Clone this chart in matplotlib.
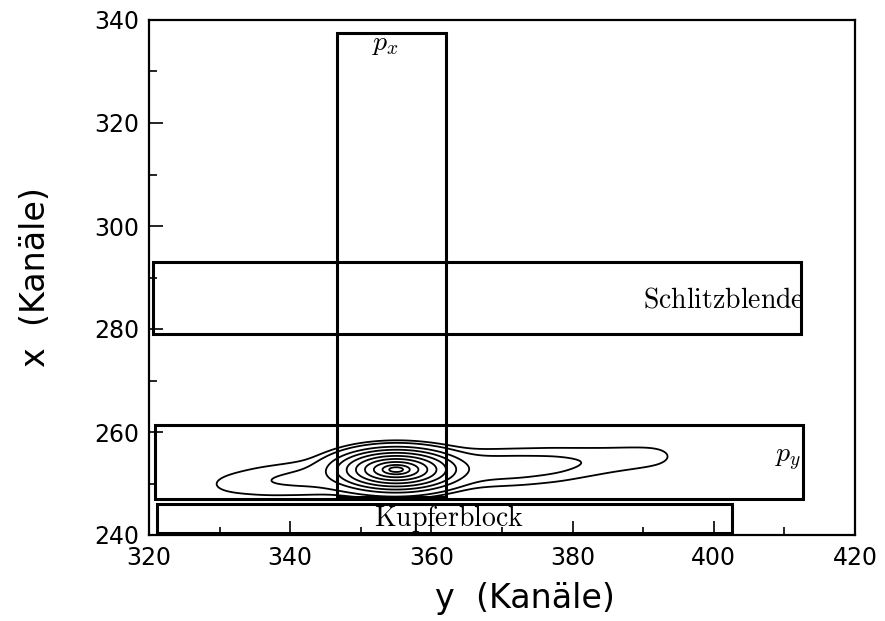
import numpy as np
import matplotlib
matplotlib.use("Agg")
import matplotlib.pyplot as plt
from matplotlib.patches import Rectangle

plt.rcParams["mathtext.fontset"] = "cm"
plt.rcParams["font.family"] = ["DejaVu Sans"]

# regions drawn on the detector plane (y channel, x channel)
box_names = ["px", "Schlitzblende", "py", "Kupferblock"]
box_y0 = [346.6, 320.6, 320.8, 321.2]
box_y1 = [362.0, 412.3, 412.6, 402.6]
box_x0 = [247.3, 279.0, 247.0, 240.4]
box_x1 = [337.5, 293.0, 261.3, 246.0]

box_labels = [r"$p_x$", r"$\mathrm{Schlitzblende}$", r"$p_y$", r"$\mathrm{Kupferblock}$"]
label_y = [353.5, 412.8, 412.4, 362.5]
label_x = [335.6, 285.8, 254.8, 243.2]
label_ha = ["center", "right", "right", "center"]

# beam spot: central peak plus a long faint halo along y
peak_y, peak_x = 355.0, 252.7
peak_sy, peak_sx = 3.6, 1.7
peak_amp = 100.0

halo_y = [328, 332, 337, 342, 347, 352, 357, 362, 367, 372, 377, 382, 387, 392]
halo_x = [249.5, 250.0, 250.5, 251.0, 251.5, 252.0, 252.4, 252.8, 253.0, 253.2, 253.6, 254.2, 254.8, 255.3]
halo_amp = [0.12, 0.37, 0.67, 0.87, 1.0, 1.1, 1.15, 1.2, 1.2, 1.15, 0.95, 0.6, 0.45, 0.4]
halo_sy, halo_sx = 3.0, 2.1

levels = [0.4, 1.0, 3.4, 7.9, 16.4, 30.1, 48.7, 69.7, 88.2, 98]

gy = np.arange(320, 420.01, 0.2)
gx = np.arange(240, 270.01, 0.1)
Y, X = np.meshgrid(gy, gx)
counts = peak_amp * np.exp(-0.5 * (((Y - peak_y) / peak_sy) ** 2 + ((X - peak_x) / peak_sx) ** 2))
for cy, cx, a in zip(halo_y, halo_x, halo_amp):
    counts += a * np.exp(-0.5 * (((Y - cy) / halo_sy) ** 2 + ((X - cx) / halo_sx) ** 2))

fig = plt.figure(figsize=(8.85, 6.21), dpi=100)
ax = fig.add_axes([149 / 885, 1 - 535 / 621, 706 / 885, 515 / 621])

ax.contour(Y, X, counts, levels=levels, colors="black", linewidths=1.3)

for y0, y1, x0, x1 in zip(box_y0, box_y1, box_x0, box_x1):
    ax.add_patch(Rectangle((y0, x0), y1 - y0, x1 - x0, fill=False, edgecolor="black", lw=2.2))

for txt, ty, tx, ha in zip(box_labels, label_y, label_x, label_ha):
    ax.text(ty, tx, txt, ha=ha, va="center", fontsize=20, color="black")

ax.set_xlim(320, 420)
ax.set_ylim(240, 340)
ax.set_xticks(np.arange(320, 421, 20))
ax.set_yticks(np.arange(240, 341, 20))
ax.set_xticks(np.arange(320, 421, 10), minor=True)
ax.set_yticks(np.arange(240, 341, 10), minor=True)
ax.tick_params(which="both", direction="in", top=False, right=False, labelsize=17, width=1.2)
ax.tick_params(which="major", length=10)
ax.tick_params(which="minor", length=6)
ax.tick_params(axis="x", pad=8)
ax.tick_params(axis="y", pad=7)
for s in ax.spines.values():
    s.set_linewidth(1.6)

ax.set_xlabel("y  (Kanäle)", fontsize=24)
ax.set_ylabel("x  (Kanäle)", fontsize=24)
ax.xaxis.set_label_coords(0.532, -0.092)
ax.yaxis.set_label_coords(-0.137, 0.5)

fig.savefig("out.png", dpi=100)
